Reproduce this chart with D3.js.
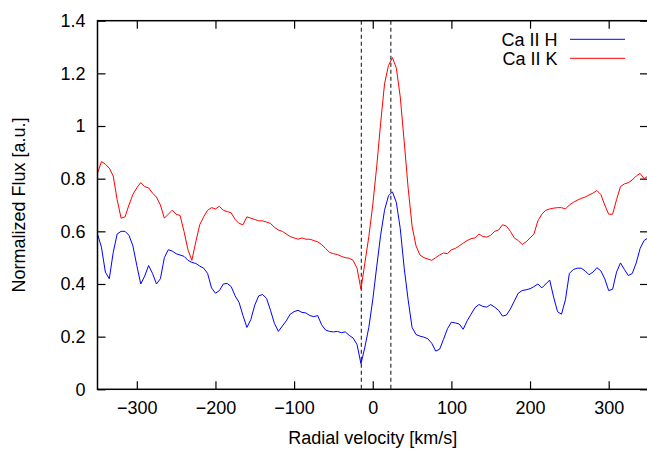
<!DOCTYPE html>
<html>
<head>
<meta charset="utf-8">
<script src="https://cdn.jsdelivr.net/npm/d3@7"></script>
<style>
  body { margin: 0; background: #fff; }
  text { font-family: "Liberation Sans", Arial, sans-serif; fill: #000; }
</style>
</head>
<body>
<svg id="chart" width="647" height="449"></svg>
<script>

// radial velocity grid [km/s]
const velocity = d3.range(-350, 351, 5);

// Ca II H (blue)
const caH = [
  0.59, 0.54, 0.445, 0.42, 0.52, 0.59, 0.60, 0.60, 0.585, 0.545,
  0.47, 0.40, 0.43, 0.47, 0.44, 0.40, 0.42, 0.50, 0.53, 0.525,
  0.515, 0.51, 0.505, 0.49, 0.482, 0.478, 0.468, 0.46, 0.44, 0.385,
  0.365, 0.375, 0.40, 0.402, 0.39, 0.355, 0.33, 0.28, 0.235, 0.265,
  0.32, 0.355, 0.36, 0.345, 0.30, 0.25, 0.22, 0.24, 0.26, 0.285,
  0.295, 0.30, 0.292, 0.29, 0.28, 0.276, 0.28, 0.245, 0.225, 0.22,
  0.218, 0.22, 0.215, 0.218, 0.205, 0.195, 0.17, 0.097, 0.16, 0.235,
  0.34, 0.465, 0.585, 0.68, 0.735, 0.75, 0.71, 0.61, 0.46, 0.34,
  0.235, 0.208, 0.202, 0.198, 0.192, 0.175, 0.145, 0.152, 0.19, 0.23,
  0.255, 0.252, 0.248, 0.228, 0.26, 0.285, 0.31, 0.322, 0.315, 0.312,
  0.322, 0.312, 0.30, 0.278, 0.282, 0.305, 0.335, 0.365, 0.375, 0.378,
  0.382, 0.39, 0.40, 0.385, 0.40, 0.415, 0.35, 0.295, 0.285, 0.34,
  0.44, 0.455, 0.46, 0.46, 0.45, 0.435, 0.445, 0.462, 0.45, 0.42,
  0.375, 0.38, 0.445, 0.48, 0.455, 0.432, 0.44, 0.48, 0.535, 0.565,
  0.575
];

// Ca II K (red)
const caK = [
  0.82, 0.865, 0.855, 0.84, 0.81, 0.72, 0.65, 0.655, 0.70, 0.74,
  0.765, 0.785, 0.77, 0.765, 0.745, 0.73, 0.70, 0.65, 0.665, 0.68,
  0.665, 0.66, 0.60, 0.53, 0.49, 0.56, 0.625, 0.655, 0.68, 0.69,
  0.685, 0.695, 0.68, 0.675, 0.67, 0.645, 0.63, 0.625, 0.655, 0.65,
  0.645, 0.64, 0.64, 0.635, 0.63, 0.615, 0.605, 0.60, 0.59, 0.58,
  0.575, 0.57, 0.575, 0.57, 0.57, 0.565, 0.56, 0.55, 0.535, 0.52,
  0.515, 0.512, 0.505, 0.50, 0.498, 0.49, 0.46, 0.38, 0.48, 0.58,
  0.70, 0.845, 1.01, 1.16, 1.23, 1.26, 1.22, 1.11, 0.94, 0.765,
  0.62, 0.545, 0.51, 0.50, 0.495, 0.49, 0.50, 0.51, 0.518, 0.515,
  0.53, 0.535, 0.545, 0.555, 0.565, 0.572, 0.575, 0.59, 0.58, 0.578,
  0.585, 0.60, 0.605, 0.625, 0.62, 0.60, 0.575, 0.565, 0.55, 0.56,
  0.575, 0.59, 0.64, 0.665, 0.68, 0.685, 0.688, 0.69, 0.69, 0.685,
  0.70, 0.71, 0.718, 0.725, 0.73, 0.738, 0.745, 0.755, 0.74, 0.70,
  0.665, 0.665, 0.72, 0.77, 0.78, 0.785, 0.795, 0.81, 0.82, 0.80,
  0.81
];

const seriesNames = ['Ca II H', 'Ca II K'];
const seriesColors = ['#0000ff', '#ff0000'];
const markers = [-14.5, 23];
const xTicks = [-300, -200, -100, 0, 100, 200, 300];
const yTicks = [0, 0.2, 0.4, 0.6, 0.8, 1, 1.2, 1.4];

const margin = { top: 20.7, left: 97.5, bottom: 59.7, right: -1 };
const width = 647 - margin.left - margin.right;
const height = 449 - margin.top - margin.bottom;

const svg = d3.select('#chart');

const x = d3.scaleLinear().domain([-350, 350]).range([0, width]);
const y = d3.scaleLinear().domain([0, 1.4]).range([height, 0]);

const chart = svg.append('g')
  .attr('transform', `translate(${margin.left}, ${margin.top})`);

const tickLen = 8;
const fmtX = d3.format('d');
const fmtY = d3.format('~g');

// axes, ticks pointing inward on all four sides
chart.append('g')
  .attr('transform', `translate(0, ${height})`)
  .call(d3.axisBottom(x).tickValues(xTicks).tickSize(-tickLen).tickPadding(12).tickFormat(fmtX));
chart.append('g')
  .call(d3.axisTop(x).tickValues(xTicks).tickSize(-tickLen).tickFormat(''));
chart.append('g')
  .call(d3.axisLeft(y).tickValues(yTicks).tickSize(-tickLen).tickPadding(12).tickFormat(fmtY));
chart.append('g')
  .attr('transform', `translate(${width}, 0)`)
  .call(d3.axisRight(y).tickValues(yTicks).tickSize(-tickLen).tickFormat(''));

chart.selectAll('.domain').remove();
chart.selectAll('.tick line').attr('stroke', '#000').attr('stroke-width', 1.2);
chart.selectAll('.tick text').style('font-size', '18px').attr('fill', '#000');

// dashed marker lines
chart.selectAll('line.marker')
  .data(markers)
  .enter()
  .append('line')
  .attr('class', 'marker')
  .attr('x1', (d) => x(d))
  .attr('x2', (d) => x(d))
  .attr('y1', 0)
  .attr('y2', height)
  .attr('stroke', '#333')
  .attr('stroke-width', 1.2)
  .attr('stroke-dasharray', '4,3');

// spectra
const line = d3.line()
  .x((d) => x(d[0]))
  .y((d) => y(d[1]));

const series = [caH, caK];
series.forEach((vals, i) => {
  chart.append('path')
    .datum(velocity.map((v, j) => [v, vals[j]]))
    .attr('d', line)
    .attr('fill', 'none')
    .attr('stroke', seriesColors[i])
    .attr('stroke-width', 1);
});

// frame
chart.append('rect')
  .attr('width', width)
  .attr('height', height)
  .attr('fill', 'none')
  .attr('stroke', '#000')
  .attr('stroke-width', 1.5);

// legend
const legend = chart.selectAll('.legend')
  .data(seriesNames)
  .enter()
  .append('g')
  .attr('class', 'legend')
  .attr('transform', (d, i) => `translate(0, ${18.6 + i * 19})`);

legend.append('text')
  .attr('x', 460)
  .attr('y', 0)
  .attr('dy', '0.35em')
  .attr('text-anchor', 'end')
  .style('font-size', '18px')
  .text((d) => d);

legend.append('line')
  .attr('x1', 472.5)
  .attr('x2', 527.5)
  .attr('stroke', (d, i) => seriesColors[i])
  .attr('stroke-width', 1);

// axis titles
svg.append('text')
  .attr('x', margin.left + width / 2)
  .attr('y', 444)
  .attr('text-anchor', 'middle')
  .style('font-size', '18px')
  .text('Radial velocity [km/s]');

svg.append('text')
  .attr('transform', 'translate(25, 205) rotate(-90)')
  .attr('text-anchor', 'middle')
  .style('font-size', '18px')
  .text('Normalized Flux [a.u.]');

</script>
</body>
</html>
